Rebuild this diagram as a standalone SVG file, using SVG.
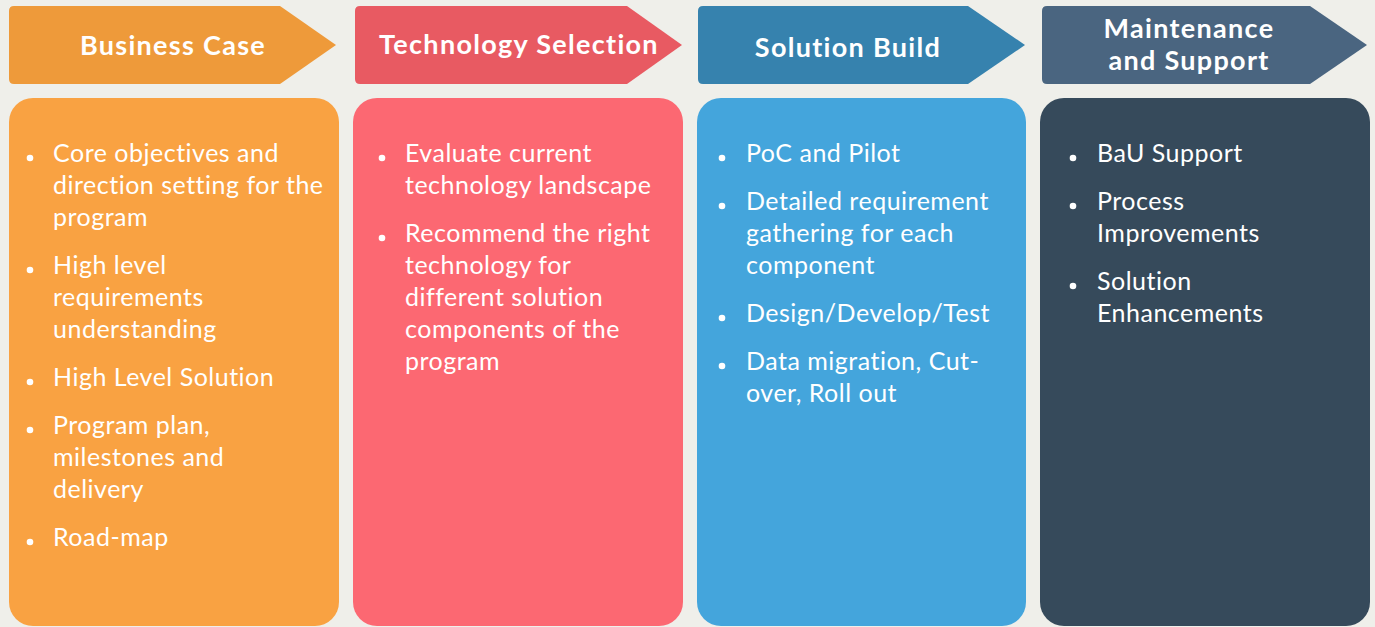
<svg xmlns="http://www.w3.org/2000/svg" width="1375" height="627" viewBox="0 0 1375 627">
<style>
.hd{font-family:Lato,"Liberation Sans",sans-serif;font-weight:bold;font-size:27px;letter-spacing:1.3px;fill:#fff;text-anchor:middle}
.tx{font-family:Lato,"Liberation Sans",sans-serif;font-size:25px;letter-spacing:0.5px;fill:#fff}
.bu{fill:#fff}
</style>
<rect width="1375" height="627" fill="#efefea"/>
<g id="connectors"/>
<g id="business-case">
<path d="M14,6 H280 L336,45 L280,84 H14 Q9,84 9,79 V11 Q9,6 14,6 Z" fill="#EE9A3A"/>
<text class="hd" x="173" y="55">Business Case</text>
<rect x="9" y="98" width="330" height="528" rx="24" fill="#F9A242"/>
<g class="tx">
<text x="53" y="162">Core objectives and</text>
<text x="53" y="194">direction setting for the</text>
<text x="53" y="226">program</text>
<text x="53" y="274">High level</text>
<text x="53" y="306">requirements</text>
<text x="53" y="338">understanding</text>
<text x="53" y="386">High Level Solution</text>
<text x="53" y="434">Program plan,</text>
<text x="53" y="466">milestones and</text>
<text x="53" y="498">delivery</text>
<text x="53" y="546">Road-map</text>
</g>
<g class="bu">
<circle cx="30" cy="158" r="3.3"/><circle cx="30" cy="270" r="3.3"/><circle cx="30" cy="382" r="3.3"/><circle cx="30" cy="430" r="3.3"/><circle cx="30" cy="542" r="3.3"/>
</g>
</g>
<g id="technology-selection">
<path d="M360,6 H627 L682,45 L627,84 H360 Q355,84 355,79 V11 Q355,6 360,6 Z" fill="#E85A62"/>
<text class="hd" x="519" y="54">Technology Selection</text>
<rect x="353" y="98" width="330" height="528" rx="24" fill="#FC6872"/>
<g class="tx">
<text x="405" y="162">Evaluate current</text>
<text x="405" y="194">technology landscape</text>
<text x="405" y="242">Recommend the right</text>
<text x="405" y="274">technology for</text>
<text x="405" y="306">different solution</text>
<text x="405" y="338">components of the</text>
<text x="405" y="370">program</text>
</g>
<g class="bu"><circle cx="382" cy="158" r="3.3"/><circle cx="382" cy="238" r="3.3"/></g>
</g>
<g id="solution-build">
<path d="M703,6 H968 L1025,45 L968,84 H703 Q698,84 698,79 V11 Q698,6 703,6 Z" fill="#3682AE"/>
<text class="hd" x="848" y="57">Solution Build</text>
<rect x="697" y="98" width="329" height="528" rx="24" fill="#44A5DC"/>
<g class="tx">
<text x="746" y="162">PoC and Pilot</text>
<text x="746" y="210">Detailed requirement</text>
<text x="746" y="242">gathering for each</text>
<text x="746" y="274">component</text>
<text x="746" y="322">Design/Develop/Test</text>
<text x="746" y="370">Data migration, Cut-</text>
<text x="746" y="402">over, Roll out</text>
</g>
<g class="bu"><circle cx="722" cy="158" r="3.3"/><circle cx="722" cy="206" r="3.3"/><circle cx="722" cy="318" r="3.3"/><circle cx="722" cy="366" r="3.3"/></g>
</g>
<g id="maintenance-support">
<path d="M1047,6 H1310 L1367,45 L1310,84 H1047 Q1042,84 1042,79 V11 Q1042,6 1047,6 Z" fill="#4A6580"/>
<text class="hd" x="1189" y="38">Maintenance</text>
<text class="hd" x="1189" y="70">and Support</text>
<rect x="1040" y="98" width="330" height="528" rx="24" fill="#364A5B"/>
<g class="tx">
<text x="1097" y="162">BaU Support</text>
<text x="1097" y="210">Process</text>
<text x="1097" y="242">Improvements</text>
<text x="1097" y="290">Solution</text>
<text x="1097" y="322">Enhancements</text>
</g>
<g class="bu"><circle cx="1073" cy="158" r="3.3"/><circle cx="1073" cy="206" r="3.3"/><circle cx="1073" cy="286" r="3.3"/></g>
</g>
</svg>
